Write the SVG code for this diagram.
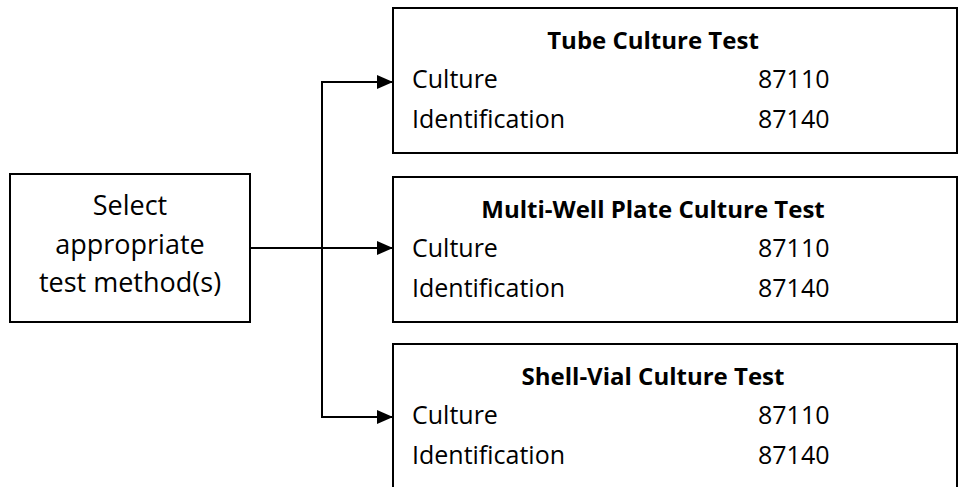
<svg xmlns="http://www.w3.org/2000/svg" width="959" height="487" viewBox="0 0 959 487">
  <style>
    .box { fill: #ffffff; stroke: #000000; stroke-width: 2; }
    .wire { fill: none; stroke: #000000; stroke-width: 2; }
    text { font-family: "Open Sans", "Liberation Sans", sans-serif; font-size: 25px; fill: #000000; }
    .title { font-size: 24px; font-weight: bold; text-anchor: middle; }
    .mid { font-size: 27px; text-anchor: middle; }
  </style>
  <defs>
    <marker id="arrow" markerUnits="userSpaceOnUse" markerWidth="16" markerHeight="14" refX="16" refY="7" orient="auto">
      <path d="M0,0 L16,7 L0,14 Z" fill="#000000"/>
    </marker>
  </defs>

  <g id="connectors">
    <line class="wire" x1="250" y1="248" x2="322" y2="248"/>
    <line class="wire" x1="322" y1="81" x2="322" y2="418"/>
    <line class="wire" x1="321" y1="82" x2="393" y2="82" marker-end="url(#arrow)"/>
    <line class="wire" x1="322" y1="248" x2="393" y2="248" marker-end="url(#arrow)"/>
    <line class="wire" x1="321" y1="417" x2="393" y2="417" marker-end="url(#arrow)"/>
  </g>

  <g id="select-method">
    <rect class="box" x="10" y="174" width="240" height="148"/>
    <text class="mid" x="130" y="215">Select</text>
    <text class="mid" x="130" y="254">appropriate</text>
    <text class="mid" x="130" y="292">test method(s)</text>
  </g>

  <g id="tube-culture">
    <rect class="box" x="393" y="8" width="564" height="145"/>
    <text class="title" x="653" y="49">Tube Culture Test</text>
    <text x="412" y="88">Culture</text>
    <text x="758" y="88">87110</text>
    <text x="412" y="128">Identification</text>
    <text x="758" y="128">87140</text>
  </g>

  <g id="multi-well-culture">
    <rect class="box" x="393" y="177" width="564" height="145"/>
    <text class="title" x="653" y="218">Multi-Well Plate Culture Test</text>
    <text x="412" y="257">Culture</text>
    <text x="758" y="257">87110</text>
    <text x="412" y="297">Identification</text>
    <text x="758" y="297">87140</text>
  </g>

  <g id="shell-vial-culture">
    <rect class="box" x="393" y="344" width="564" height="145"/>
    <text class="title" x="653" y="385">Shell-Vial Culture Test</text>
    <text x="412" y="424">Culture</text>
    <text x="758" y="424">87110</text>
    <text x="412" y="464">Identification</text>
    <text x="758" y="464">87140</text>
  </g>
</svg>
